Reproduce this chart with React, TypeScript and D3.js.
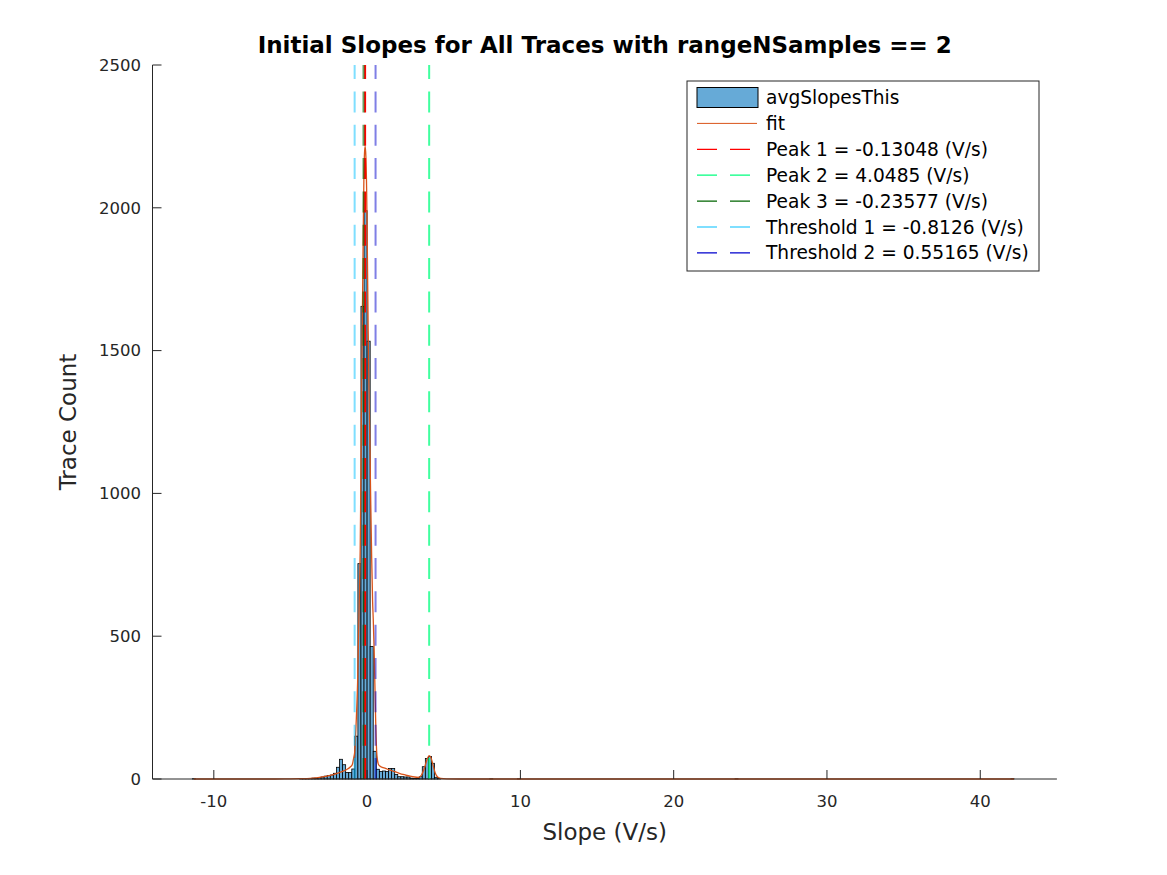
import React from 'react';
import * as d3 from 'd3';

// ---- data ----
const BIN_WIDTH = 0.2;
const binLeft = [
  -11.4,
  -4.4, -4.2, -4.0, -3.8, -3.6, -3.4, -3.2, -3.0, -2.8, -2.6, -2.4, -2.2, -2.0, -1.8, -1.6, -1.4, -1.2, -1.0,
  -0.8, -0.6, -0.4, -0.2, 0.0, 0.2, 0.4, 0.6, 0.8, 1.0, 1.2, 1.4, 1.6, 1.8, 2.0, 2.2, 2.4, 2.6, 2.8, 3.0, 3.2,
  3.4, 3.6, 3.8, 4.0, 4.2, 4.4, 4.6,
  8.0, 9.8, 24.0, 42.0,
];
const binCount = [
  1,
  1, 1, 2, 2, 3, 3, 5, 7, 10, 12, 14, 20, 41, 69, 50, 23, 23, 35,
  150, 754, 1655, 1990, 1533, 464, 97, 34, 26, 28, 26, 37, 37, 16, 8, 8, 7, 7, 3, 2, 2,
  8, 43, 72, 79, 55, 6, 2,
  1, 1, 1, 1,
];

const fitX = [
  -11.3, -6.0, -5.0, -4.4, -3.7, -3.3, -2.8, -2.4, -1.95, -1.6, -1.3, -1.1, -0.97, -0.87,
  -0.8, -0.72, -0.62, -0.52, -0.45, -0.38, -0.32, -0.26, -0.21, -0.16, -0.12, -0.08, -0.03,
  0.01, 0.07, 0.12, 0.18, 0.24, 0.3, 0.36, 0.4, 0.46, 0.52, 0.57, 0.62, 0.68, 0.75, 0.9,
  1.2, 1.5, 1.8, 2.1, 2.5, 2.8, 3.1, 3.35, 3.55, 3.75, 3.92, 4.05, 4.18, 4.32, 4.45, 4.6,
  4.8, 5.2, 6.0, 42.2,
];
const fitY = [
  0, 0, 0.5, 1, 2, 4, 8, 13, 20, 27, 34, 42, 50, 75,
  100, 190, 337, 600, 800, 1200, 1560, 1870, 2100, 2200, 2215, 2180, 2060,
  1880, 1570, 1370, 1170, 960, 770, 620, 560, 450, 300, 180, 100, 65, 50, 43,
  37, 31, 26, 20, 14, 10, 7, 6, 14, 40, 70, 82, 72, 45, 20, 7,
  2, 0.5, 0, 0,
];

const xTicks = [-10, 0, 10, 20, 30, 40];
const yTicks = [0, 500, 1000, 1500, 2000, 2500];

const refValues = [-0.13048, 4.0485, -0.23577, -0.8126, 0.55165];
const refLabels = [
  'Peak 1 = -0.13048 (V/s)',
  'Peak 2 = 4.0485 (V/s)',
  'Peak 3 = -0.23577 (V/s)',
  'Threshold 1 = -0.8126 (V/s)',
  'Threshold 2 = 0.55165 (V/s)',
];
const refColors = ['#FF0000', '#00FF7F', '#006400', '#00BFFF', '#0000CD'];
const refOpacity = [1, 0.75, 0.6, 0.5, 0.5];

const TITLE = 'Initial Slopes for All Traces with rangeNSamples == 2';
const X_LABEL = 'Slope (V/s)';
const Y_LABEL = 'Trace Count';
const HIST_NAME = 'avgSlopesThis';
const FIT_NAME = 'fit';

// ---- layout ----
const W = 1167;
const H = 875;
const L = 152.5;
const R = 1056.9;
const T = 65;
const B = 779;
const FONT = 'DejaVu Sans, sans-serif';
const AX = '#262626';
const BAR_FILL = '#66AAD7';
const FIT_COLOR = '#D95319';
const TICK_FS = 16.5;
const LABEL_FS = 23;
const TITLE_FS = 23;
const LEG_FS = 18.6;

export default function App() {
  const x = d3.scaleLinear().domain([-14, 45]).range([L, R]);
  const y = d3.scaleLinear().domain([0, 2500]).range([B, T]);

  const fitPts: [number, number][] = fitX.map((v, i) => [v, fitY[i]]);
  const fitPath = d3
    .line<[number, number]>()
    .x((d) => x(d[0]))
    .y((d) => y(d[1]))
    .curve(d3.curveMonotoneX)(fitPts) as string;

  const legX = 687;
  const legY = 81;
  const legW = 352;
  const legH = 190;
  const rowY = (i: number) => 97.5 + i * 25.9;

  return (
    <svg
      width={W}
      height={H}
      style={{ position: 'absolute', left: 0, top: 0, background: '#fff' }}
      fontFamily={FONT}
    >
      <rect x={0} y={0} width={W} height={H} fill="#fff" />
      {/* histogram */}
      <g>
        {binLeft.map((b, i) => (
          <rect
            key={i}
            x={x(b)}
            width={x(b + BIN_WIDTH) - x(b)}
            y={y(binCount[i])}
            height={y(0) - y(binCount[i])}
            fill={BAR_FILL}
            stroke="#000"
            strokeWidth={0.8}
          />
        ))}
      </g>
      {/* fit */}
      <path d={fitPath} fill="none" stroke={FIT_COLOR} strokeWidth={1.3} />
      {/* reference lines */}
      {refValues.map((v, i) => (
        <line
          key={i}
          x1={x(v)}
          x2={x(v)}
          y1={y(0)}
          y2={y(2500)}
          stroke={refColors[i]}
          strokeOpacity={refOpacity[i]}
          strokeWidth={2}
          strokeDasharray="21 12.33"
        />
      ))}
      {/* axes */}
      <line x1={L} x2={R} y1={B} y2={B} stroke={AX} strokeWidth={1} />
      <line x1={L} x2={L} y1={T} y2={B} stroke={AX} strokeWidth={1} />
      {xTicks.map((t) => (
        <g key={t}>
          <line x1={x(t)} x2={x(t)} y1={B} y2={B - 9} stroke={AX} />
          <text x={x(t)} y={807} textAnchor="middle" fontSize={TICK_FS} fill={AX}>
            {t}
          </text>
        </g>
      ))}
      {yTicks.map((t) => (
        <g key={t}>
          <line x1={L} x2={L + 9} y1={y(t)} y2={y(t)} stroke={AX} />
          <text x={141} y={y(t)} dy="0.35em" textAnchor="end" fontSize={TICK_FS} fill={AX}>
            {t}
          </text>
        </g>
      ))}
      <text x={(L + R) / 2} y={840} textAnchor="middle" fontSize={LABEL_FS} fill={AX}>
        {X_LABEL}
      </text>
      <text
        transform={`translate(76,${(T + B) / 2}) rotate(-90)`}
        textAnchor="middle"
        fontSize={LABEL_FS}
        fill={AX}
      >
        {Y_LABEL}
      </text>
      <text x={(L + R) / 2} y={53} textAnchor="middle" fontSize={TITLE_FS} fontWeight="bold" fill="#000">
        {TITLE}
      </text>
      {/* legend */}
      <g>
        <rect x={legX} y={legY} width={legW} height={legH} fill="#fff" stroke={AX} strokeWidth={1} />
        <rect x={697} y={rowY(0) - 10} width={61} height={20} fill={BAR_FILL} stroke="#000" strokeWidth={1} />
        <text x={766} y={rowY(0)} dy="0.35em" fontSize={LEG_FS} fill="#000">
          {HIST_NAME}
        </text>
        <line x1={697} x2={757} y1={rowY(1)} y2={rowY(1)} stroke={FIT_COLOR} strokeWidth={1} />
        <text x={766} y={rowY(1)} dy="0.35em" fontSize={LEG_FS} fill="#000">
          {FIT_NAME}
        </text>
        {refLabels.map((lab, i) => (
          <g key={lab}>
            <line
              x1={697}
              x2={750}
              y1={rowY(i + 2)}
              y2={rowY(i + 2)}
              stroke={refColors[i]}
              strokeWidth={1.2}
              strokeDasharray="20 13"
            />
            <text x={766} y={rowY(i + 2)} dy="0.35em" fontSize={LEG_FS} fill="#000">
              {lab}
            </text>
          </g>
        ))}
      </g>
    </svg>
  );
}
